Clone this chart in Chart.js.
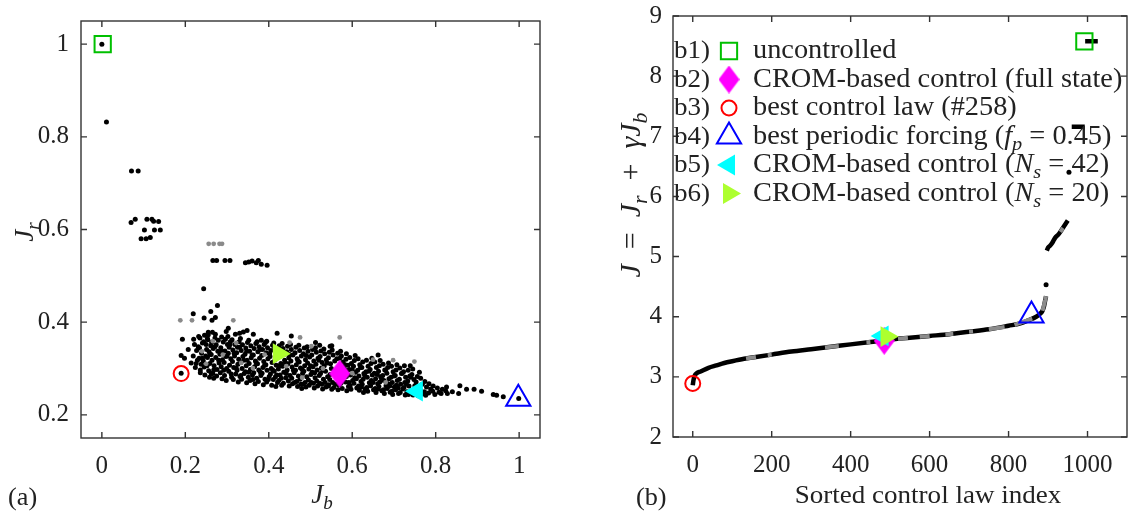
<!DOCTYPE html>
<html>
<head>
<meta charset="utf-8">
<script src="https://cdn.jsdelivr.net/npm/chart.js@4.4.0/dist/chart.umd.min.js"></script>
<style>
  html, body { margin: 0; padding: 0; background: #fff; }
  #wrapA { position: absolute; left: 0; top: 0; width: 560px; height: 522px; }
  #wrapB { position: absolute; left: 560px; top: 0; width: 584px; height: 522px; }
</style>
</head>
<body>
<div id="wrapA"><canvas id="chartA" width="560" height="522"></canvas></div>
<div id="wrapB"><canvas id="chartB" width="584" height="522"></canvas></div>
<script>
const SERIF = '"Liberation Serif", "DejaVu Serif", serif'
const INK = '#222222'

// ---- panel (a): Jr over Jb, one dot per control law
const cloudBlack = [
    [0.000, 1.000], [0.011, 0.832], [0.071, 0.726], [0.087, 0.726],
    [0.070, 0.615], [0.080, 0.622], [0.108, 0.622], [0.120, 0.622], [0.124, 0.618], [0.136, 0.617],
    [0.102, 0.599], [0.126, 0.599], [0.140, 0.599], [0.094, 0.580], [0.106, 0.580], [0.116, 0.583],
    [0.266, 0.533], [0.275, 0.533], [0.295, 0.533], [0.307, 0.533],
    [0.344, 0.528], [0.352, 0.530], [0.360, 0.532], [0.370, 0.528], [0.375, 0.533], [0.382, 0.525], [0.396, 0.523],
    [0.244, 0.472], [0.277, 0.436], [0.261, 0.423], [0.219, 0.418], [0.272, 0.410], [0.245, 0.409], [0.264, 0.404],
    [0.303, 0.387], [0.298, 0.380], [0.255, 0.378], [0.265, 0.378], [0.348, 0.382], [0.320, 0.374], [0.330, 0.376],
    [0.363, 0.374], [0.232, 0.369], [0.253, 0.365], [0.420, 0.376], [0.454, 0.370], [0.522, 0.350], [0.547, 0.348],
    [0.586, 0.332], [0.662, 0.329], [0.193, 0.363], [0.220, 0.363],
    [0.190, 0.290], [0.236, 0.291], [0.262, 0.289], [0.198, 0.322], [0.190, 0.328], [0.207, 0.341], [0.214, 0.312],
    [0.222, 0.352], [0.227, 0.339], [0.219, 0.327], [0.229, 0.318], [0.224, 0.302], [0.231, 0.347], [0.226, 0.311],
    [0.235, 0.366], [0.239, 0.333], [0.233, 0.322], [0.241, 0.355], [0.236, 0.297], [0.238, 0.309], [0.234, 0.344],
    [0.246, 0.372], [0.244, 0.358], [0.249, 0.327], [0.243, 0.316], [0.247, 0.286], [0.251, 0.341], [0.245, 0.303], [0.250, 0.352],
    [0.254, 0.362], [0.257, 0.336], [0.253, 0.324], [0.259, 0.311], [0.256, 0.295], [0.258, 0.281], [0.261, 0.349], [0.255, 0.373],
    [0.263, 0.356], [0.267, 0.343], [0.264, 0.318], [0.269, 0.306], [0.262, 0.330], [0.266, 0.289], [0.271, 0.366], [0.268, 0.279],
    [0.274, 0.351], [0.278, 0.337], [0.273, 0.324], [0.276, 0.298], [0.281, 0.312], [0.275, 0.284], [0.279, 0.361], [0.272, 0.374],
    [0.285, 0.345], [0.283, 0.331], [0.289, 0.319], [0.286, 0.304], [0.284, 0.291], [0.291, 0.357], [0.288, 0.278], [0.287, 0.368],
    [0.295, 0.338], [0.297, 0.326], [0.293, 0.313], [0.299, 0.300], [0.294, 0.285], [0.301, 0.352], [0.296, 0.363], [0.298, 0.274],
    [0.305, 0.346], [0.303, 0.333], [0.309, 0.321], [0.306, 0.307], [0.304, 0.294], [0.311, 0.281], [0.308, 0.358], [0.302, 0.369],
    [0.314, 0.340], [0.318, 0.327], [0.313, 0.315], [0.316, 0.302], [0.321, 0.288], [0.315, 0.276], [0.319, 0.352], [0.312, 0.362],
    [0.325, 0.346], [0.323, 0.334], [0.328, 0.320], [0.326, 0.309], [0.324, 0.296], [0.331, 0.283], [0.327, 0.271], [0.329, 0.358],
    [0.334, 0.339], [0.338, 0.326], [0.333, 0.313], [0.336, 0.300], [0.341, 0.289], [0.335, 0.277], [0.337, 0.351], [0.332, 0.365],
    [0.345, 0.344], [0.343, 0.331], [0.348, 0.318], [0.346, 0.306], [0.344, 0.293], [0.351, 0.281], [0.347, 0.269], [0.349, 0.356],
    [0.354, 0.337], [0.358, 0.323], [0.353, 0.311], [0.356, 0.298], [0.361, 0.286], [0.355, 0.274], [0.357, 0.349], [0.352, 0.361],
    [0.365, 0.343], [0.363, 0.329], [0.368, 0.316], [0.366, 0.304], [0.364, 0.291], [0.371, 0.279], [0.367, 0.267], [0.369, 0.354],
    [0.374, 0.336], [0.378, 0.322], [0.373, 0.310], [0.376, 0.297], [0.381, 0.285], [0.375, 0.272], [0.377, 0.347], [0.372, 0.358],
    [0.385, 0.341], [0.383, 0.328], [0.388, 0.315], [0.386, 0.302], [0.384, 0.290], [0.391, 0.277], [0.387, 0.265], [0.389, 0.352],
    [0.394, 0.334], [0.398, 0.321], [0.393, 0.308], [0.396, 0.296], [0.401, 0.283], [0.395, 0.271], [0.397, 0.345], [0.392, 0.356],
    [0.405, 0.339], [0.403, 0.326], [0.408, 0.313], [0.406, 0.300], [0.404, 0.288], [0.411, 0.276], [0.407, 0.264], [0.409, 0.350],
    [0.414, 0.344], [0.418, 0.307], [0.413, 0.294], [0.416, 0.282], [0.421, 0.270], [0.415, 0.319], [0.412, 0.355], [0.417, 0.261],
    [0.425, 0.349], [0.429, 0.311], [0.423, 0.299], [0.427, 0.286], [0.424, 0.274], [0.431, 0.264], [0.428, 0.338],
    [0.434, 0.343], [0.438, 0.318], [0.433, 0.305], [0.436, 0.292], [0.441, 0.280], [0.435, 0.268], [0.437, 0.331], [0.432, 0.354],
    [0.445, 0.348], [0.443, 0.336], [0.448, 0.323], [0.446, 0.310], [0.444, 0.297], [0.451, 0.285], [0.447, 0.273], [0.449, 0.262],
    [0.454, 0.341], [0.458, 0.329], [0.453, 0.316], [0.456, 0.303], [0.461, 0.291], [0.455, 0.279], [0.457, 0.267], [0.452, 0.352],
    [0.465, 0.346], [0.463, 0.334], [0.468, 0.321], [0.466, 0.308], [0.464, 0.296], [0.471, 0.284], [0.467, 0.272], [0.469, 0.261],
    [0.474, 0.339], [0.478, 0.327], [0.473, 0.314], [0.476, 0.301], [0.481, 0.289], [0.475, 0.277], [0.477, 0.266], [0.472, 0.350], [0.479, 0.257],
    [0.485, 0.344], [0.483, 0.332], [0.488, 0.319], [0.486, 0.306], [0.484, 0.294], [0.491, 0.282], [0.487, 0.270], [0.489, 0.260],
    [0.494, 0.337], [0.498, 0.325], [0.493, 0.312], [0.496, 0.299], [0.501, 0.287], [0.495, 0.275], [0.497, 0.264], [0.492, 0.347],
    [0.505, 0.341], [0.503, 0.329], [0.508, 0.316], [0.506, 0.304], [0.504, 0.292], [0.511, 0.280], [0.507, 0.268], [0.509, 0.258],
    [0.514, 0.335], [0.518, 0.322], [0.513, 0.309], [0.516, 0.297], [0.521, 0.285], [0.515, 0.273], [0.517, 0.262], [0.512, 0.345],
    [0.525, 0.338], [0.523, 0.326], [0.528, 0.313], [0.526, 0.301], [0.524, 0.289], [0.531, 0.277], [0.527, 0.266], [0.529, 0.256],
    [0.534, 0.332], [0.538, 0.319], [0.533, 0.306], [0.536, 0.294], [0.541, 0.282], [0.535, 0.270], [0.537, 0.260], [0.532, 0.342],
    [0.545, 0.335], [0.543, 0.323], [0.548, 0.310], [0.546, 0.276], [0.544, 0.265], [0.551, 0.255], [0.547, 0.287],
    [0.554, 0.329], [0.558, 0.316], [0.553, 0.270], [0.556, 0.259], [0.552, 0.340],
    [0.565, 0.333], [0.563, 0.321], [0.568, 0.264], [0.566, 0.254],
    [0.574, 0.327], [0.578, 0.314], [0.573, 0.268], [0.576, 0.257], [0.581, 0.300], [0.572, 0.337],
    [0.585, 0.320], [0.583, 0.308], [0.588, 0.295], [0.586, 0.283], [0.584, 0.271], [0.591, 0.261], [0.587, 0.252],
    [0.594, 0.324], [0.598, 0.311], [0.593, 0.298], [0.596, 0.286], [0.601, 0.274], [0.595, 0.263], [0.597, 0.255],
    [0.605, 0.317], [0.603, 0.305], [0.608, 0.292], [0.606, 0.280], [0.604, 0.268], [0.611, 0.258], [0.607, 0.328],
    [0.614, 0.321], [0.618, 0.308], [0.613, 0.296], [0.616, 0.284], [0.621, 0.272], [0.615, 0.262], [0.617, 0.253],
    [0.625, 0.314], [0.623, 0.302], [0.628, 0.289], [0.626, 0.277], [0.624, 0.266], [0.631, 0.256], [0.627, 0.248],
    [0.634, 0.318], [0.638, 0.305], [0.633, 0.293], [0.636, 0.281], [0.641, 0.269], [0.635, 0.259], [0.637, 0.251],
    [0.645, 0.311], [0.643, 0.298], [0.648, 0.286], [0.646, 0.274], [0.644, 0.263], [0.651, 0.254], [0.647, 0.322],
    [0.654, 0.314], [0.658, 0.302], [0.653, 0.290], [0.656, 0.278], [0.661, 0.267], [0.655, 0.257], [0.657, 0.248],
    [0.665, 0.306], [0.663, 0.294], [0.668, 0.282], [0.666, 0.271], [0.664, 0.261], [0.671, 0.252], [0.667, 0.317],
    [0.674, 0.309], [0.678, 0.297], [0.673, 0.285], [0.676, 0.274], [0.681, 0.263], [0.675, 0.254], [0.677, 0.246],
    [0.685, 0.302], [0.683, 0.290], [0.688, 0.278], [0.686, 0.267], [0.684, 0.257], [0.691, 0.249], [0.687, 0.312],
    [0.694, 0.305], [0.698, 0.293], [0.693, 0.281], [0.696, 0.270], [0.701, 0.260], [0.695, 0.251], [0.697, 0.244],
    [0.705, 0.297], [0.703, 0.285], [0.708, 0.274], [0.706, 0.264], [0.704, 0.254], [0.711, 0.246], [0.707, 0.308],
    [0.714, 0.301], [0.718, 0.289], [0.713, 0.277], [0.716, 0.266], [0.721, 0.256], [0.715, 0.248],
    [0.725, 0.306], [0.723, 0.293], [0.728, 0.281], [0.726, 0.270], [0.724, 0.259], [0.731, 0.250], [0.727, 0.243],
    [0.734, 0.296], [0.738, 0.284], [0.733, 0.273], [0.736, 0.262], [0.741, 0.252], [0.735, 0.244], [0.739, 0.306],
    [0.745, 0.299], [0.743, 0.287], [0.748, 0.276], [0.746, 0.243],
    [0.756, 0.283], [0.753, 0.271], [0.758, 0.241], [0.761, 0.292],
    [0.764, 0.279], [0.768, 0.266], [0.763, 0.254], [0.767, 0.245], [0.774, 0.272], [0.778, 0.260], [0.773, 0.250], [0.776, 0.242],
    [0.784, 0.267], [0.788, 0.256], [0.783, 0.247], [0.794, 0.262], [0.793, 0.251], [0.798, 0.244], [0.804, 0.258], [0.808, 0.249],
    [0.816, 0.255], [0.813, 0.246], [0.824, 0.252], [0.828, 0.246], [0.826, 0.260], [0.840, 0.250], [0.855, 0.246],
    [0.858, 0.263], [0.874, 0.255], [0.892, 0.255], [0.910, 0.251], [0.938, 0.244], [0.946, 0.242],
    [0.962, 0.239], [0.999, 0.235],
    // second pass of laws that land between the others
    [0.241, 0.322], [0.252, 0.306], [0.259, 0.330], [0.268, 0.297], [0.271, 0.347], [0.280, 0.318], [0.288, 0.338],
    [0.292, 0.296], [0.300, 0.327], [0.307, 0.352], [0.310, 0.288], [0.317, 0.333], [0.322, 0.301], [0.330, 0.346],
    [0.333, 0.285], [0.340, 0.318], [0.347, 0.337], [0.352, 0.292], [0.360, 0.329], [0.362, 0.276], [0.370, 0.312],
    [0.379, 0.341], [0.380, 0.292], [0.390, 0.307], [0.399, 0.276], [0.402, 0.332], [0.410, 0.296], [0.419, 0.286],
    [0.426, 0.306], [0.430, 0.279], [0.440, 0.312], [0.442, 0.289], [0.450, 0.330], [0.459, 0.296], [0.462, 0.270],
    [0.470, 0.316], [0.480, 0.298], [0.482, 0.266], [0.490, 0.328], [0.500, 0.306], [0.502, 0.270], [0.510, 0.291],
    [0.520, 0.318], [0.522, 0.268], [0.530, 0.296], [0.540, 0.312], [0.542, 0.262], [0.550, 0.300], [0.560, 0.266],
    [0.570, 0.322], [0.580, 0.287], [0.590, 0.307], [0.592, 0.270], [0.600, 0.298], [0.610, 0.278], [0.620, 0.302],
    [0.622, 0.260], [0.630, 0.285], [0.640, 0.294], [0.650, 0.270], [0.660, 0.287], [0.662, 0.256], [0.670, 0.279],
    [0.680, 0.296], [0.690, 0.262], [0.700, 0.284], [0.710, 0.258], [0.720, 0.290], [0.730, 0.266], [0.740, 0.281],
    [0.750, 0.263], [0.760, 0.256], [0.339, 0.379], [0.382, 0.361], [0.395, 0.359], [0.512, 0.356], [0.551, 0.349]
]
const cloudGrey = [
    [0.256, 0.569], [0.268, 0.569], [0.282, 0.569], [0.288, 0.569],
    [0.188, 0.404], [0.216, 0.404], [0.315, 0.404], [0.450, 0.356], [0.475, 0.367], [0.570, 0.367],
    [0.749, 0.315], [0.650, 0.319], [0.698, 0.318], [0.240, 0.337], [0.334, 0.312], [0.322, 0.355],
    [0.266, 0.359], [0.362, 0.301], [0.442, 0.305], [0.502, 0.348], [0.290, 0.330], [0.390, 0.330],
    [0.530, 0.300], [0.600, 0.290], [0.250, 0.310], [0.480, 0.280], [0.680, 0.270]
]
// special cases: uncontrolled, CROM full state, best law, periodic forcing, CROM Ns=42, CROM Ns=20
const specialJb = [0.002, 0.570, 0.190, 0.998, 0.755, 0.424]
const specialJr = [1.000, 0.289, 0.289, 0.2345, 0.251, 0.332]

const xTicksA = [0, 0.2, 0.4, 0.6, 0.8, 1]
const xLabelsA = ['0', '0.2', '0.4', '0.6', '0.8', '1']
const yTicksA = [0.2, 0.4, 0.6, 0.8, 1]
const yLabelsA = ['0.2', '0.4', '0.6', '0.8', '1']

// ---- panel (b): J = Jr + gamma*Jb sorted
const sortedIdx = [0, 2, 5, 10, 20, 40, 60, 80, 100, 130, 160, 200, 250, 300, 350, 400, 450, 500, 550, 600,
    650, 700, 750, 800, 830, 850, 870, 880, 886, 890, 893, 895, 896,
    897, 900, 905, 910, 915, 920, 925, 930, 935, 940, 945, 950, 955,
    960, 993, 993.5, 994, 1026]
const sortedJ = [2.86, 2.95, 3.02, 3.06, 3.09, 3.15, 3.19, 3.23, 3.26, 3.30, 3.33, 3.37, 3.42, 3.46, 3.50, 3.54, 3.58, 3.62, 3.65, 3.68,
    3.71, 3.75, 3.79, 3.85, 3.89, 3.94, 4.00, 4.05, 4.10, 4.18, 4.28, 4.34, null,
    5.10, 5.15, 5.18, 5.22, 5.28, 5.33, 5.36, 5.40, 5.45, 5.50, 5.55, 5.60, null,
    7.16, 7.16, null, 8.58, 8.58]
const greyIdx = [135, 160, 161, 190, 200, 201, 335, 370, 371, 440, 450, 451, 520, 545, 546, 575, 600, 601,
    640, 660, 661, 700, 710, 711, 750, 790, 791, 815, 860, 861, 886, 893, 895, 896, 931, 938]
const greyJ = [3.305, 3.33, null, 3.36, 3.37, null, 3.49, 3.515, null, 3.575, 3.58, null, 3.635, 3.65, null, 3.665, 3.68, null,
    3.705, 3.715, null, 3.75, 3.755, null, 3.79, 3.83, null, 3.865, 3.97, null, 4.10, 4.28, 4.34, null, 5.41, 5.475]
const looseIdx = [895, 953]
const looseJ = [4.53, 6.40]
const specialIdx = [992, 485, 0, 858, 481, 491]
const specialJ = [8.58, 3.60, 2.89, 4.02, 3.68, 3.67]

const xTicksB = [0, 200, 400, 600, 800, 1000]
const yTicksB = [2, 3, 4, 5, 6, 7, 8, 9]

const legendTags = ['b1)', 'b2)', 'b3)', 'b4)', 'b5)', 'b6)']
const legendRuns = [
    [['uncontrolled', 'n']],
    [['CROM-based control (full state)', 'n']],
    [['best control law (#258)', 'n']],
    [['best periodic forcing (', 'n'], ['f', 'i'], ['p', 's'], [' = 0.45)', 'n']],
    [['CROM-based control (', 'n'], ['N', 'i'], ['s', 's'], [' = 42)', 'n']],
    [['CROM-based control (', 'n'], ['N', 'i'], ['s', 's'], [' = 20)', 'n']]
]

function makeDiamond(w, h, color) {
    const c = document.createElement('canvas')
    c.width = w
    c.height = h
    const g = c.getContext('2d')
    g.fillStyle = color
    g.beginPath()
    g.moveTo(w / 2, 0)
    g.lineTo(w, h / 2)
    g.lineTo(w / 2, h)
    g.lineTo(0, h / 2)
    g.closePath()
    g.fill()
    return c
}

const markerStyles = [
    { pointStyle: 'rect', radius: 11.5, rotation: 0, color: '#00c000', filled: false },
    { pointStyle: makeDiamond(21, 28, '#ff00ff'), radius: 12, rotation: 0, color: '#ff00ff', filled: true },
    { pointStyle: 'circle', radius: 7.5, rotation: 0, color: '#ff0000', filled: false },
    { pointStyle: 'triangle', radius: 14, rotation: 0, color: '#0000ff', filled: false },
    { pointStyle: 'triangle', radius: 12, rotation: -90, color: '#00ffff', filled: true },
    { pointStyle: 'triangle', radius: 12, rotation: 90, color: '#adff2f', filled: true }
]
// drawing order, top first: Ns=20, Ns=42, full state, others
const markerOrder = [4, 2, 3, 5, 1, 0]

function specialDatasets(xs, ys) {
    return markerStyles.map((m, i) => ({
        label: legendTags[i],
        data: [{ x: xs[i], y: ys[i] }],
        order: markerOrder[i],
        pointStyle: m.pointStyle,
        pointRadius: m.radius,
        pointRotation: m.rotation,
        pointBorderColor: m.color,
        pointBackgroundColor: m.filled ? m.color : 'rgba(0,0,0,0)',
        pointBorderWidth: m.filled ? 0 : 2
    }))
}

// runs: [text, kind], kind n = upright, i = italic, s = italic subscript
function drawRuns(ctx, runs, x, y, size, align, stretch) {
    const k = stretch || 1
    const fontFor = t => (t === 'n' ? '' : 'italic ') + (t === 's' ? Math.round(size * 0.72) : size) + 'px ' + SERIF
    let total = 0
    runs.forEach(([t, f]) => { ctx.font = fontFor(f); total += ctx.measureText(t).width * k })
    let cx = align === 'center' ? x - total / 2 : x
    ctx.textAlign = 'left'
    ctx.textBaseline = 'alphabetic'
    runs.forEach(([t, f]) => {
        ctx.font = fontFor(f)
        ctx.save()
        ctx.translate(cx, y + (f === 's' ? size * 0.24 : 0))
        ctx.scale(k, 1)
        ctx.fillText(t, 0, 0)
        ctx.restore()
        cx += ctx.measureText(t).width * k
    })
}

// box round the axes with inward tick marks on all four sides
const boxTicks = {
    id: 'boxTicks',
    afterDraw(chart) {
        const { ctx, chartArea: a, scales } = chart
        const len = 6
        ctx.save()
        ctx.strokeStyle = '#333333'
        ctx.lineWidth = 1.4
        ctx.strokeRect(a.left, a.top, a.right - a.left, a.bottom - a.top)
        ctx.beginPath()
        scales.x.ticks.forEach(t => {
            const px = scales.x.getPixelForValue(t.value)
            ctx.moveTo(px, a.bottom); ctx.lineTo(px, a.bottom - len)
            ctx.moveTo(px, a.top); ctx.lineTo(px, a.top + len)
        })
        scales.y.ticks.forEach(t => {
            const py = scales.y.getPixelForValue(t.value)
            ctx.moveTo(a.left, py); ctx.lineTo(a.left + len, py)
            ctx.moveTo(a.right, py); ctx.lineTo(a.right - len, py)
        })
        ctx.stroke()
        ctx.restore()
    }
}

function axisOptions(min, max, ticks, labels, size, horizontal, pad) {
    return {
        type: 'linear',
        min: min,
        max: max,
        grid: { display: false, drawTicks: false },
        border: { display: false },
        afterBuildTicks: s => { s.ticks = ticks.map(v => ({ value: v })) },
        afterFit: s => {
            if (horizontal) { s.height = size } else { s.width = size }
            s.paddingTop = 0; s.paddingBottom = 0; s.paddingLeft = 0; s.paddingRight = 0
        },
        ticks: {
            padding: pad,
            color: INK,
            font: { family: SERIF, size: 25 },
            callback: (v, i) => labels[i]
        }
    }
}

const baseOptions = {
    responsive: false,
    animation: false,
    events: [],
    devicePixelRatio: 1,
    plugins: { legend: { display: false }, tooltip: { enabled: false }, title: { display: false } }
}

new Chart(document.getElementById('chartA'), {
    type: 'scatter',
    data: {
        datasets: [
            ...specialDatasets(specialJb, specialJr),
            {
                data: cloudGrey.map(p => ({ x: p[0], y: p[1] })),
                order: 10,
                pointRadius: 2.4,
                pointBorderWidth: 0,
                pointBackgroundColor: '#8a8a8a'
            },
            {
                data: cloudBlack.map(p => ({ x: p[0], y: p[1] })),
                order: 11,
                pointRadius: 2.5,
                pointBorderWidth: 0,
                pointBackgroundColor: '#000000'
            }
        ]
    },
    options: {
        ...baseOptions,
        layout: { padding: { top: 21, right: 20, left: 0, bottom: 0 } },
        scales: {
            x: axisOptions(-0.05, 1.05, xTicksA, xLabelsA, 84, true, 13),
            y: axisOptions(0.15, 1.05, yTicksA, yLabelsA, 81, false, 12)
        }
    },
    plugins: [boxTicks, {
        id: 'textA',
        afterDraw(chart) {
            const ctx = chart.ctx
            ctx.save()
            ctx.fillStyle = INK
            drawRuns(ctx, [['(a)', 'n']], 8, 505, 25, 'left', 1.05)
            drawRuns(ctx, [['J', 'i'], ['b', 's']], 322, 503, 27, 'center')
            ctx.translate(33, 232)
            ctx.rotate(-Math.PI / 2)
            drawRuns(ctx, [['J', 'i'], ['r', 's']], 0, 0, 27, 'center')
            ctx.restore()
        }
    }]
})

new Chart(document.getElementById('chartB'), {
    type: 'scatter',
    data: {
        datasets: [
            ...specialDatasets(specialIdx, specialJ),
            {
                data: looseIdx.map((v, i) => ({ x: v, y: looseJ[i] })),
                order: 9,
                pointRadius: 2.5,
                pointBorderWidth: 0,
                pointBackgroundColor: '#000000'
            },
            {
                data: greyIdx.map((v, i) => ({ x: v, y: greyJ[i] })),
                order: 10,
                showLine: true,
                spanGaps: false,
                pointRadius: 0,
                borderColor: '#8c8c8c',
                borderWidth: 4
            },
            {
                data: sortedIdx.map((v, i) => ({ x: v, y: sortedJ[i] })),
                order: 11,
                showLine: true,
                spanGaps: false,
                cubicInterpolationMode: 'monotone',
                pointRadius: 0,
                borderColor: '#000000',
                borderWidth: 4.5
            }
        ]
    },
    options: {
        ...baseOptions,
        layout: { padding: { top: 12, right: 17, left: 0, bottom: 0 } },
        scales: {
            x: axisOptions(-50, 1100, xTicksB, xTicksB.map(String), 85, true, 13),
            y: axisOptions(2, 9, yTicksB, yTicksB.map(String), 113, false, 11)
        }
    },
    plugins: [boxTicks, {
        id: 'textB',
        afterDraw(chart) {
            const ctx = chart.ctx
            ctx.save()
            ctx.fillStyle = INK
            drawRuns(ctx, [['(b)', 'n']], 76, 505, 25, 'left', 1.05)
            drawRuns(ctx, [['Sorted control law index', 'n']], 368, 503, 26, 'center', 1.04)

            // legend without a frame, drawn over the data
            const baselines = [58, 86.5, 115, 143.5, 172, 200.5]
            for (let i = 0; i < legendTags.length; i++) {
                const m = markerStyles[i]
                drawRuns(ctx, [[legendTags[i], 'n']], 114, baselines[i], 26, 'left', 1.04)
                ctx.fillStyle = m.filled ? m.color : 'rgba(0,0,0,0)'
                ctx.strokeStyle = m.color
                ctx.lineWidth = 2
                Chart.helpers.drawPoint(ctx, {
                    pointStyle: m.pointStyle, rotation: m.rotation, radius: m.radius,
                    borderWidth: m.filled ? 0 : 2
                }, 169, baselines[i] - 7)
                ctx.fillStyle = INK
                drawRuns(ctx, legendRuns[i], 193, baselines[i], 26.5, 'left', 1.07)
            }

            ctx.translate(80, 195)
            ctx.rotate(-Math.PI / 2)
            drawRuns(ctx, [['J', 'i'], ['\u2002=\u2002', 'n'], ['J', 'i'], ['r', 's'], ['\u2002+\u2002', 'n'], ['\u03b3', 'i'], ['J', 'i'], ['b', 's']], 0, 0, 30, 'center')
            ctx.restore()
        }
    }]
})
</script>
</body>
</html>
